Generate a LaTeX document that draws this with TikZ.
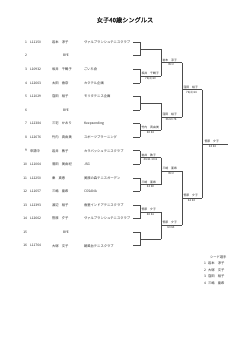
\documentclass[tikz,border=0pt]{standalone}
\usepackage{fontspec}
\usetikzlibrary{calc}
\setmainfont{Noto Sans CJK JP}
\newfontfamily\titlefont[FakeBold=1.5]{Noto Sans CJK JP}
\begin{document}
\begin{tikzpicture}[x=1pt,y=-1pt,
  every node/.style={inner sep=0pt, outer sep=0pt, text=black!85},
  lst/.style={font=\fontsize{3.3}{4}\selectfont, anchor=west},
  num/.style={font=\fontsize{3.3}{4}\selectfont, anchor=east},
  win/.style={font=\fontsize{2.9}{3.5}\selectfont, anchor=south west},
  sc/.style={font=\fontsize{2.9}{3.5}\selectfont, anchor=north},
  ln/.style={line width=0.6pt, draw=black!70}]
\useasboundingbox (0,0) rectangle (250,353);
\node[font=\titlefont\fontsize{6.2}{7}\selectfont] (title) at (125,20) {女子40歳シングルス};

% player list
\foreach \i/\id/\nm/\cl in {
 1/L11150/岩本　淳子/ヴァルブランシュテニスクラブ,
 3/L10932/坂井　千鶴子/ごいち会,
 4/L12663/太田　香奈/カクテル企画,
 5/L11029/窪田　裕子/モリタテニス企画,
 7/L12384/三宅　かおり/Keepsending,
 8/L12676/竹内　真由美/スポーツプラーニング,
 9/申請中/岩井　敦子/カラバッシュテニスクラブ,
 10/L11064/落田　美由紀/JSG,
 11/L12250/秦　真恵/美原の森テニスガーデン,
 12/L11657/三嶋　亜希/COSANA,
 13/L12393/渡辺　裕子/香里インドアテニスクラブ,
 14/L12662/笹原　夕子/ヴァルブランシュテニスクラブ,
 16/L11764/大塚　文子/朝風台テニスクラブ}
{
 \pgfmathsetmacro\yy{42.2+13.57*(\i-1)}
 \node[num] (n\i) at (27,\yy) {\i};
 \node[lst] (id\i) at (30,\yy) {\id};
 \node[lst] (nm\i) at (52,\yy) {\nm};
 \node[lst] (cl\i) at (84,\yy) {\cl};
}
\foreach \i in {2,6,15}{
 \pgfmathsetmacro\yy{42.2+13.57*(\i-1)}
 \node[num] (n\i) at (27,\yy) {\i};
 \node[lst] (bye\i) at (63,\yy) {BYE};
}

% row stubs
\foreach \i in {1,...,16}{
 \pgfmathsetmacro\yy{42.2+13.57*(\i-1)}
 \coordinate (r\i) at (133,\yy);
 \coordinate (b\i) at (140,\yy);
 \draw[ln] (r\i) -- (b\i);
}
% round 1
\foreach \k in {1,...,8}{
 \pgfmathtruncatemacro\a{2*\k-1}
 \pgfmathtruncatemacro\b{2*\k}
 \draw[ln] (b\a) -- (b\b);
 \coordinate (m\k) at ($(b\a)!0.5!(b\b)$);
 \coordinate (mm\k) at ($(m\k)+(21,0)$);
 \draw[ln] (m\k) -- (mm\k);
}
% round 2
\foreach \k in {1,...,4}{
 \pgfmathtruncatemacro\a{2*\k-1}
 \pgfmathtruncatemacro\b{2*\k}
 \draw[ln] (mm\a) -- (mm\b);
 \coordinate (p\k) at ($(mm\a)!0.5!(mm\b)$);
 \coordinate (pp\k) at ($(p\k)+(21,0)$);
 \draw[ln] (p\k) -- (pp\k);
}
% round 3
\foreach \k in {1,2}{
 \pgfmathtruncatemacro\a{2*\k-1}
 \pgfmathtruncatemacro\b{2*\k}
 \draw[ln] (pp\a) -- (pp\b);
 \coordinate (q\k) at ($(pp\a)!0.5!(pp\b)$);
 \coordinate (qq\k) at ($(q\k)+(20,0)$);
 \draw[ln] (q\k) -- (qq\k);
}
% final
\draw[ln] (qq1) -- (qq2);
\coordinate (f) at ($(qq1)!0.5!(qq2)$);
\coordinate (ff) at ($(f)+(26,0)$);
\draw[ln] (f) -- (ff);

% round 1 results
\foreach \k/\nm/\s in {2/坂井　千鶴子/76(4) 60, 4/竹内　真由美/60 63, 5/岩井　敦子/46 61 10-6, 6/三嶋　亜希/63 60, 7/笹原　夕子/60 61}{
 \node[win] (w1\k) at ($(m\k)+(1.5,-1.2)$) {\nm};
 \node[sc] (s1\k) at ($(m\k)+(10.5,1.2)$) {\s};
}
% round 2 results
\foreach \k/\nm/\s in {1/岩本　淳子/W.O, 2/窪田　裕子/36 63 76, 3/三嶋　亜希/W.O, 4/笹原　夕子/63 63}{
 \node[win] (w2\k) at ($(p\k)+(1.5,-1.2)$) {\nm};
 \node[sc] (s2\k) at ($(p\k)+(10,1.2)$) {\s};
}
% round 3 results
\foreach \k/\nm/\s in {1/窪田　裕子/76(4) 64, 2/笹原　夕子/62 63}{
 \node[win] (w3\k) at ($(q\k)+(1.5,-1.2)$) {\nm};
 \node[sc] (s3\k) at ($(q\k)+(9.5,1.2)$) {\s};
}
% final
\node[win] (champ) at ($(f)+(2.5,-1.2)$) {笹原　夕子};
\node[sc] (champs) at ($(f)+(10.5,1.2)$) {63 63};

% seeds
\node[lst] (seedh) at (210,257) {シード選手};
\foreach \k/\nm in {1/岩本　淳子, 2/大塚　文子, 3/窪田　裕子, 4/三嶋　亜希}{
 \pgfmathsetmacro\yy{257+6.5*\k}
 \node[num] (sn\k) at (206,\yy) {\k};
 \node[lst] (sm\k) at (208,\yy) {\nm};
}
\end{tikzpicture}
\end{document}
